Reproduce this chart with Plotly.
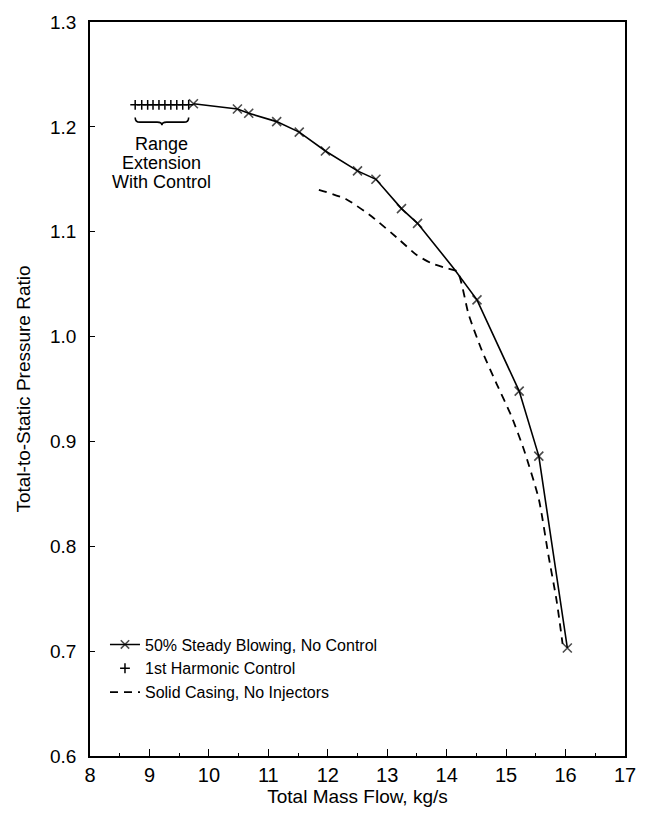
import plotly.graph_objects as go

# ---- data ----
steady_x = [9.74, 10.48, 10.67, 11.14, 11.52, 11.96, 12.50, 12.81, 13.24, 13.51, 14.12, 14.51, 15.22, 15.55, 16.03]
steady_y = [1.222, 1.217, 1.213, 1.205, 1.195, 1.177, 1.158, 1.150, 1.122, 1.108, 1.065, 1.035, 0.948, 0.886, 0.703]
steady_has_marker = [1, 1, 1, 1, 1, 1, 1, 1, 1, 1, 0, 1, 1, 1, 1]

harmonic_x = [8.76, 8.87, 8.97, 9.06, 9.16, 9.26, 9.36, 9.46, 9.56, 9.66]
harmonic_y = [1.221, 1.221, 1.221, 1.221, 1.221, 1.221, 1.221, 1.221, 1.221, 1.221]

solid_x = [11.85, 12.31, 12.75, 13.19, 13.49, 13.74, 14.01, 14.18, 14.37, 14.59, 14.84, 15.09, 15.30, 15.55, 15.71, 15.85, 15.95]
solid_y = [1.140, 1.131, 1.114, 1.093, 1.078, 1.070, 1.065, 1.062, 1.021, 0.987, 0.955, 0.924, 0.892, 0.845, 0.792, 0.748, 0.707]

series_names = ["50% Steady Blowing, No Control", "1st Harmonic Control", "Solid Casing, No Injectors"]
annotation_lines = ["Range", "Extension", "With Control"]

x_title = "Total Mass Flow, kg/s"
y_title = "Total-to-Static Pressure Ratio"

FONT = "Liberation Sans, Arial, Helvetica, sans-serif"

fig = go.Figure()

fig.add_trace(go.Scatter(
    x=steady_x, y=steady_y, mode="lines+markers", name=series_names[0],
    line=dict(color="black", width=1.6),
    marker=dict(symbol="x-thin", size=[9 if m else 0 for m in steady_has_marker],
                color="black", line=dict(color="black", width=1.6)),
))
fig.add_trace(go.Scatter(
    x=harmonic_x, y=harmonic_y, mode="markers", name=series_names[1],
    marker=dict(symbol="cross-thin", size=7, color="black",
                line=dict(color="black", width=1.5)),
))
fig.add_trace(go.Scatter(
    x=solid_x, y=solid_y, mode="lines", name=series_names[2],
    line=dict(color="black", width=1.8, dash="8px,6px", shape="spline", smoothing=0.6),
))

# brace under the harmonic-control points (built from the data extent)
bx0, bx1 = min(harmonic_x), max(harmonic_x)
bxm = (bx0 + bx1) / 2
ybase = harmonic_y[0]
ye, yh, yt = ybase - 0.012, ybase - 0.0165, ybase - 0.0195
d = 0.08
brace = (f"M{bx0},{ye} Q{bx0},{yh} {bx0 + d},{yh} L{bxm - d},{yh} "
         f"Q{bxm},{yh} {bxm},{yt} Q{bxm},{yh} {bxm + d},{yh} "
         f"L{bx1 - d},{yh} Q{bx1},{yh} {bx1},{ye}")
fig.add_shape(type="path", path=brace, xref="x", yref="y",
              line=dict(color="black", width=1.6))

for i, t in enumerate(annotation_lines):
    fig.add_annotation(x=bxm, y=ybase - 0.026, xref="x", yref="y",
                       text=t, showarrow=False, xanchor="center", yanchor="top",
                       yshift=-19 * i, font=dict(family=FONT, size=18, color="black"))

fig.update_layout(
    width=648, height=815,
    margin=dict(l=90, r=12, t=20, b=51),
    paper_bgcolor="white", plot_bgcolor="white",
    font=dict(family=FONT, color="black"),
    showlegend=True,
    legend=dict(x=0.028, y=0.175, xanchor="left", yanchor="top",
                bgcolor="rgba(0,0,0,0)", borderwidth=0,
                font=dict(family=FONT, size=16, color="black"),
                tracegroupgap=0),
)

fig.update_xaxes(
    range=[8, 17], dtick=1, tick0=8,
    showgrid=False, zeroline=False,
    showline=True, linecolor="black", linewidth=1.5, mirror=True,
    ticks="inside", ticklen=7, tickwidth=1.2, tickcolor="black",
    minor=dict(ticks="inside", ticklen=3, dtick=0.5, tickcolor="black", tickwidth=1),
    tickfont=dict(family=FONT, size=20, color="black"),
    title=dict(text=x_title, font=dict(family=FONT, size=19, color="black"), standoff=4),
)
fig.update_yaxes(
    range=[0.6, 1.3], dtick=0.1, tick0=0.6, tickformat=".1f",
    showgrid=False, zeroline=False,
    showline=True, linecolor="black", linewidth=1.5, mirror=True,
    ticks="inside", ticklen=5, tickwidth=1.2, tickcolor="black",
    ticklabelstandoff=8,
    tickfont=dict(family=FONT, size=19, color="black"),
    title=dict(text=y_title, font=dict(family=FONT, size=19, color="black"), standoff=14),
)

fig.write_html("out.html")
